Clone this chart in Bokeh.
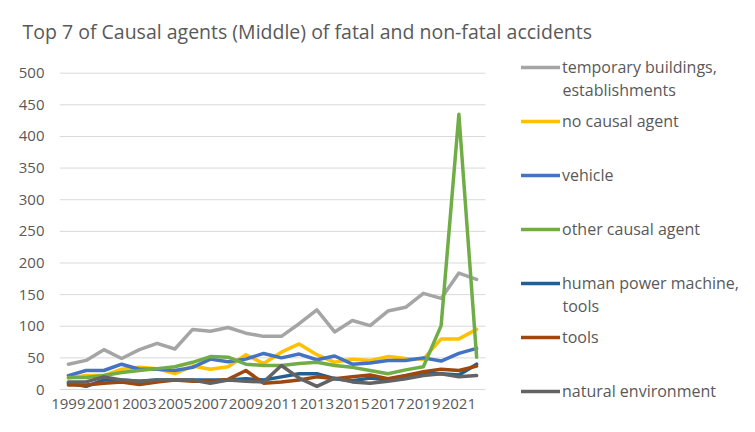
from bokeh.plotting import figure
from bokeh.models import Range1d, FixedTicker, Legend, LegendItem, Label
from bokeh.embed import file_html
from bokeh.resources import INLINE

years = list(range(1999, 2023))
temporary_buildings = [40, 46, 63, 49, 63, 73, 64, 95, 92, 98, 89, 84, 84, 104, 126, 91, 109, 101, 124, 130, 152, 144, 184, 174]
no_causal_agent = [18, 22, 22, 32, 35, 33, 25, 37, 32, 36, 55, 41, 59, 72, 55, 43, 48, 46, 52, 49, 48, 80, 80, 95]
vehicle = [22, 30, 30, 40, 32, 32, 30, 35, 48, 44, 48, 57, 50, 56, 47, 53, 40, 42, 46, 46, 50, 45, 57, 65]
other_causal_agent = [19, 19, 22, 27, 30, 33, 36, 43, 52, 51, 40, 38, 38, 41, 43, 38, 35, 30, 25, 31, 36, 101, 435, 51]
human_power_machine = [10, 5, 15, 15, 13, 15, 15, 15, 15, 15, 17, 15, 20, 25, 25, 17, 14, 18, 15, 18, 25, 25, 23, 40]
tools = [7, 7, 10, 12, 8, 12, 15, 13, 13, 16, 30, 10, 12, 15, 20, 17, 20, 23, 17, 22, 28, 32, 30, 37]
natural_environment = [12, 12, 20, 15, 13, 15, 15, 15, 10, 15, 13, 12, 38, 18, 5, 18, 12, 10, 13, 17, 22, 25, 20, 22]

series_names = ["temporary buildings,", "no causal agent", "vehicle", "other causal agent",
                "human power machine,", "tools", "natural environment"]
series_continuation = {"temporary buildings,": "establishments", "human power machine,": "tools"}
series_values = [temporary_buildings, no_causal_agent, vehicle, other_causal_agent,
                 human_power_machine, tools, natural_environment]
series_colors = ["#A5A5A5", "#FFC000", "#4472C4", "#70AD47", "#255E91", "#9E480E", "#636363"]
x_ticks = list(range(1999, 2022, 2))
y_ticks = list(range(0, 501, 50))
title_text = "Top 7 of Causal agents (Middle) of fatal and non-fatal accidents"

FONT = "Open Sans"
TXT = "#595959"

W, H = 755, 432
LEFT, TOP, BOTTOM = 59, 45, 405          # frame edges in pixels
PX_YEAR = 17.75                           # pixels per year
PX_UNIT = (389 - 72.7) / 500.0            # pixels per value unit (0 at 389px)
x_min = years[0] - 0.5
x_max = x_min + (W - LEFT) / PX_YEAR
y_min = -(BOTTOM - 389) / PX_UNIT
y_max = (389 - TOP) / PX_UNIT

p = figure(width=W, height=H, output_backend="svg", toolbar_location=None,
           x_range=Range1d(x_min, x_max), y_range=Range1d(y_min, y_max),
           min_border_left=LEFT, min_border_right=0, min_border_top=TOP, min_border_bottom=H - BOTTOM)
p.outline_line_color = None
p.background_fill_color = "white"

p.title.text = title_text
p.title.align = "left"
p.title.offset = 22 - LEFT
p.title.text_font = FONT
p.title.text_font_size = "19.5px"
p.title.text_font_style = "normal"
p.title.text_color = TXT
p.title.standoff = 2

p.xgrid.grid_line_color = None
p.ygrid.grid_line_color = None

# horizontal gridlines spanning only the data categories
grid_x0 = years[0] - 0.5
grid_x1 = years[-1] + 0.5
p.segment(x0=[grid_x0] * len(y_ticks), x1=[grid_x1] * len(y_ticks), y0=y_ticks, y1=y_ticks,
          line_color="#D9D9D9", line_width=1)

p.yaxis.ticker = FixedTicker(ticks=y_ticks)
p.xaxis.ticker = FixedTicker(ticks=x_ticks)
for ax in (p.xaxis, p.yaxis):
    ax.axis_line_color = None
    ax.major_tick_line_color = None
    ax.minor_tick_line_color = None
    ax.major_tick_out = 0
    ax.major_tick_in = 0
    ax.major_label_text_font = FONT
    ax.major_label_text_font_size = "15px"
    ax.major_label_text_color = TXT
p.yaxis.major_label_standoff = 15
p.xaxis.major_label_standoff = -7

renderers = []
for name, vals, col in zip(series_names, series_values, series_colors):
    r = p.line(years, vals, line_color=col, line_width=3.5, line_join="round", line_cap="round")
    renderers.append(r)

items = [LegendItem(label=n, renderers=[r]) for n, r in zip(series_names, renderers)]
LEG_LEFT, LEG_TOP, ITEM_H = 521, 40, 54
legend = Legend(items=items, location=(LEG_LEFT - LEFT, BOTTOM - (LEG_TOP + ITEM_H * len(items))),
                label_height=ITEM_H, glyph_height=6, glyph_width=39,
                spacing=0, padding=0, margin=0, label_standoff=2,
                label_text_font=FONT, label_text_font_size="16px", label_text_color=TXT,
                border_line_color=None, background_fill_alpha=0)
p.add_layout(legend, "center")

# second lines of wrapped legend labels
for i, n in enumerate(series_names):
    if n in series_continuation:
        fy = LEG_TOP + ITEM_H * i + ITEM_H / 2 + 22.5
        p.add_layout(Label(x=x_min + (562 - LEFT) / PX_YEAR, y=(389 - fy) / PX_UNIT,
                           text=series_continuation[n], text_font=FONT, text_font_size="16px",
                           text_color=TXT, text_baseline="middle", text_align="left"))

open("out.html", "w").write(file_html(p, INLINE))
